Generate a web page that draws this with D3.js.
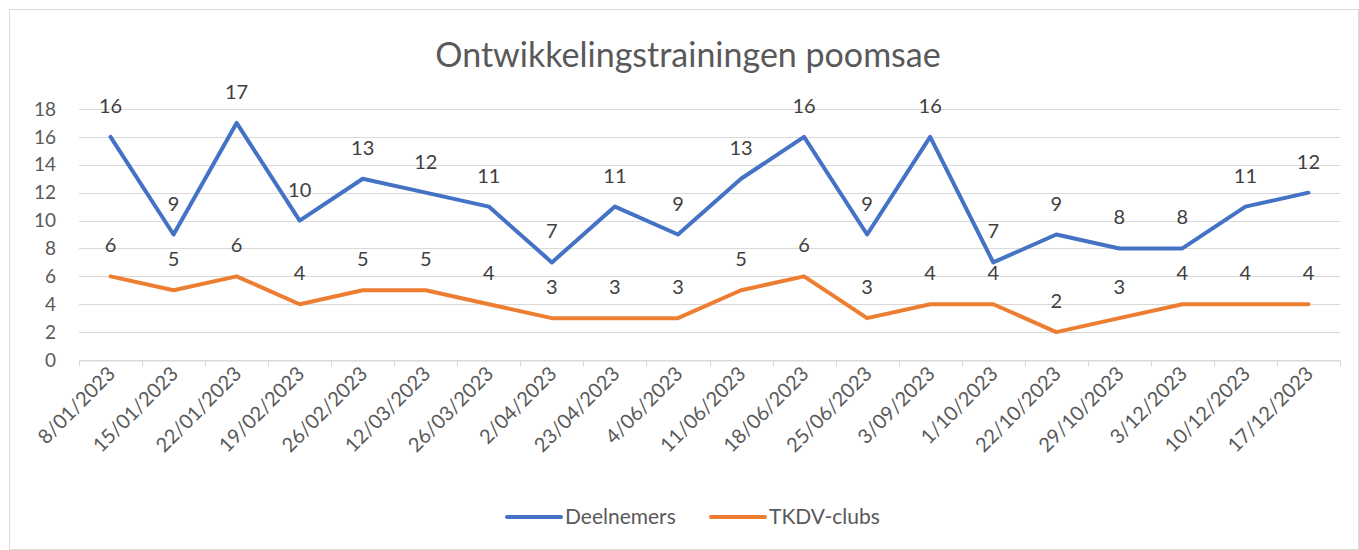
<!DOCTYPE html>
<html>
<head>
<meta charset="utf-8">
<script src="https://cdn.jsdelivr.net/npm/d3@7"></script>
<style>
  body { margin: 0; background: #fff; }
  text { font-family: Lato, "Open Sans", sans-serif; }
</style>
</head>
<body>
<div id="chart"></div>
<script>
// Chart data
const dates = ["8/01/2023", "15/01/2023", "22/01/2023", "19/02/2023", "26/02/2023", "12/03/2023",
  "26/03/2023", "2/04/2023", "23/04/2023", "4/06/2023", "11/06/2023", "18/06/2023", "25/06/2023",
  "3/09/2023", "1/10/2023", "22/10/2023", "29/10/2023", "3/12/2023", "10/12/2023", "17/12/2023"];
const deelnemers = [16, 9, 17, 10, 13, 12, 11, 7, 11, 9, 13, 16, 9, 16, 7, 9, 8, 8, 11, 12];
const clubs = [6, 5, 6, 4, 5, 5, 4, 3, 3, 3, 5, 6, 3, 4, 4, 2, 3, 4, 4, 4];
const yTicks = [0, 2, 4, 6, 8, 10, 12, 14, 16, 18];

const series = [
  { name: "Deelnemers", values: deelnemers, color: "#4472C4" },
  { name: "TKDV-clubs", values: clubs, color: "#ED7D31" }
];

const width = 1359, height = 550;
const margin = { left: 79, right: 19, top: 109, bottom: 190 };

const svg = d3.select("#chart").append("svg")
  .attr("width", width)
  .attr("height", height);

// outer chart border
svg.append("rect")
  .attr("x", 9.5).attr("y", 9.5)
  .attr("width", width - 10).attr("height", height - 10)
  .attr("fill", "none")
  .attr("stroke", "#d9d9d9");

const x = d3.scaleBand()
  .domain(dates)
  .range([margin.left, width - margin.right]);

const y = d3.scaleLinear()
  .domain([0, 18])
  .range([height - margin.bottom, margin.top]);

// gridlines
svg.append("g")
  .selectAll("line")
  .data(yTicks)
  .join("line")
  .attr("x1", margin.left)
  .attr("x2", width - margin.right)
  .attr("y1", d => Math.round(y(d)) + 0.5)
  .attr("y2", d => Math.round(y(d)) + 0.5)
  .attr("stroke", "#d9d9d9")
  .attr("stroke-width", 1);

// y labels
svg.append("g")
  .selectAll("text")
  .data(yTicks)
  .join("text")
  .attr("x", 56)
  .attr("y", d => y(d))
  .attr("dy", "0.35em")
  .attr("text-anchor", "end")
  .attr("font-size", 19)
  .attr("fill", "#595959")
  .text(d => d);

// x axis
const xAxis = svg.append("g")
  .attr("transform", `translate(0,${Math.round(y(0)) + 0.5})`)
  .call(d3.axisBottom(x).tickSize(0).tickFormat(""));
xAxis.select(".domain").attr("stroke", "#d9d9d9");
xAxis.selectAll(".tick").remove();

const bounds = dates.map(d => x(d)).concat([width - margin.right]);
xAxis.selectAll("line.tk")
  .data(bounds)
  .join("line")
  .attr("class", "tk")
  .attr("x1", d => Math.round(d) + 0.5)
  .attr("x2", d => Math.round(d) + 0.5)
  .attr("y1", 0)
  .attr("y2", 6)
  .attr("stroke", "#d9d9d9");

svg.append("g")
  .selectAll("text")
  .data(dates)
  .join("text")
  .attr("text-anchor", "end")
  .attr("font-size", 20)
  .attr("fill", "#595959")
  .attr("transform", d => `translate(${x(d) + x.bandwidth() / 2 + 6},${y(0) + 15}) rotate(-45)`)
  .text(d => d);

// lines
const line = d3.line()
  .x((d, i) => x(dates[i]) + x.bandwidth() / 2)
  .y(d => y(d));

series.forEach(s => {
  svg.append("path")
    .datum(s.values)
    .attr("d", line)
    .attr("fill", "none")
    .attr("stroke", s.color)
    .attr("stroke-width", 4)
    .attr("stroke-linejoin", "round")
    .attr("stroke-linecap", "round");
});

// data labels
series.forEach(s => {
  svg.append("g")
    .selectAll("text")
    .data(s.values)
    .join("text")
    .attr("x", (d, i) => x(dates[i]) + x.bandwidth() / 2)
    .attr("y", d => y(d) - 24)
    .attr("text-anchor", "middle")
    .attr("font-size", 20)
    .attr("fill", "#404040")
    .text(d => d);
});

// title
svg.append("text")
  .attr("x", 688)
  .attr("y", 67)
  .attr("text-anchor", "middle")
  .attr("font-size", 34)
  .attr("fill", "#595959")
  .text("Ontwikkelingstrainingen poomsae");

// legend
const legend = svg.append("g");
const legendX = [507, 711];
series.forEach((s, i) => {
  legend.append("line")
    .attr("x1", legendX[i])
    .attr("x2", legendX[i] + 54)
    .attr("y1", 517)
    .attr("y2", 517)
    .attr("stroke", s.color)
    .attr("stroke-width", 4)
    .attr("stroke-linecap", "round");
  legend.append("text")
    .attr("x", legendX[i] + 58)
    .attr("y", 517)
    .attr("dy", "0.35em")
    .attr("font-size", 21)
    .attr("fill", "#595959")
    .text(s.name);
});
</script>
</body>
</html>
